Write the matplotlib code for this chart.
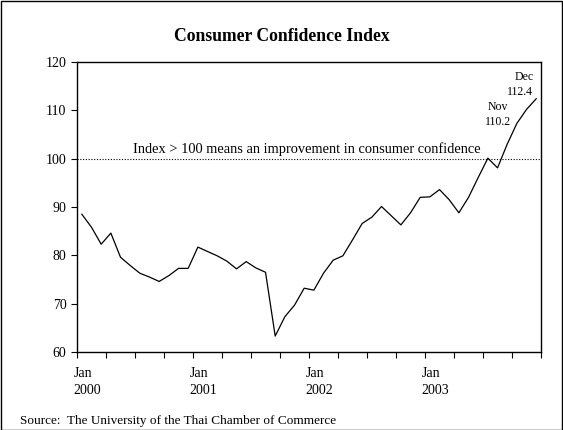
import numpy as np
import matplotlib
matplotlib.use("Agg")
import matplotlib.pyplot as plt
from matplotlib.patches import Rectangle
import matplotlib.transforms as mtransforms

plt.rcParams["font.family"] = ["Liberation Serif", "DejaVu Serif"]

# monthly index, Jan 2000 .. Dec 2003
cci = [88.5, 85.8, 82.3, 84.6, 79.6, 77.9, 76.3, 75.5, 74.6, 75.8, 77.3, 77.3,
       81.7, 80.8, 79.9, 78.8, 77.2, 78.7, 77.4, 76.5, 63.3, 67.3, 69.7, 73.2,
       72.8, 76.3, 79.0, 79.9, 83.2, 86.6, 87.9, 90.1, 88.2, 86.3, 88.8, 92.0,
       92.1, 93.6, 91.5, 88.8, 92.0, 96.1, 100.1, 98.1, 103.0, 107.3, 110.2, 112.4]
years = ["2000", "2001", "2002", "2003"]
yticks = [60, 70, 80, 90, 100, 110, 120]

months = np.arange(len(cci)) + 0.5

fig = plt.figure(figsize=(5.63, 4.30), dpi=100)
ax = fig.add_axes([0.1368, 0.1814, 0.961 - 0.1368, 0.8558 - 0.1814])

ax.plot(months, cci, color="black", lw=0.9)
ax.axhline(100, color="black", lw=0.8, ls=(0, (1, 1.5)))

ax.set_xlim(0, 48)
ax.set_ylim(60, 120)
ax.set_yticks(yticks)
ax.set_xticks(np.arange(0, 49, 3))
ax.set_xticklabels([])
ax.tick_params(direction="out", length=4, width=0.8, labelsize=10, colors="black")
for s in ax.spines.values():
    s.set_linewidth(1.0)

trans = mtransforms.blended_transform_factory(ax.transData, ax.transAxes)
for k, yr in enumerate(years):
    ax.text(k * 12 + 0.6, -0.075, "Jan", transform=trans, ha="center", va="center", fontsize=10)
    ax.text(k * 12 + 1.1, -0.133, yr, transform=trans, ha="center", va="center", fontsize=10)

ax.text(23.8, 102.0, "Index > 100 means an improvement in consumer confidence",
        ha="center", va="center", fontsize=10.4)

# end-of-series labels
ax.text(43.5, 110.75, "Nov", ha="center", va="center", fontsize=8.5)
ax.text(43.5, 107.65, "%.1f" % cci[46], ha="center", va="center", fontsize=8.5)
ax.text(47.2, 116.96, "Dec", ha="right", va="center", fontsize=8.5)
ax.text(47.2, 113.86, "%.1f" % cci[47], ha="right", va="center", fontsize=8.5)

fig.text(0.5, 0.914, "Consumer Confidence Index", ha="center", va="center",
         fontsize=12.7, fontweight="bold")
fig.text(0.036, 0.022, "Source:  The University of the Thai Chamber of Commerce",
         ha="left", va="center", fontsize=9.5)

fig.patches.append(Rectangle((0.001, 0.001), 0.997, 0.997, transform=fig.transFigure,
                             fill=False, edgecolor="black", lw=1.0))

fig.savefig("out.png", dpi=100)
